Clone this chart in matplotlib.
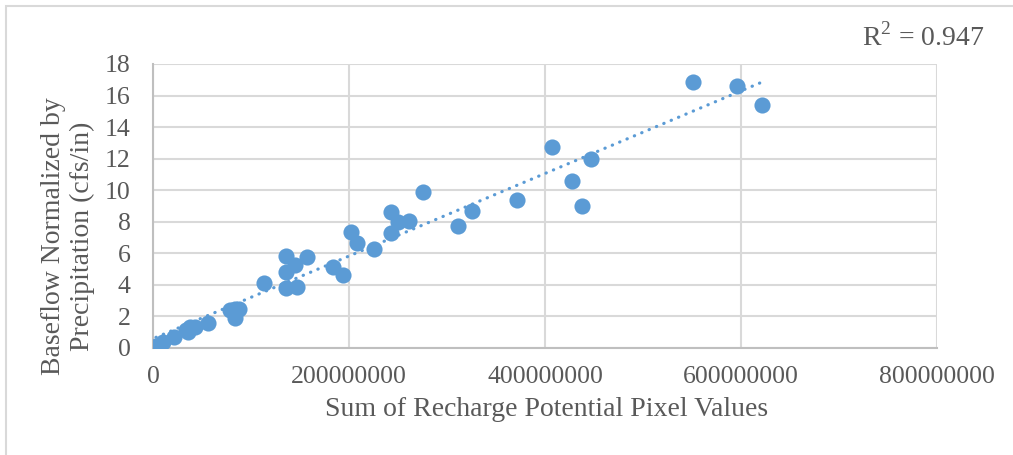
import matplotlib.pyplot as plt
import numpy as np
from matplotlib.patches import Rectangle

plt.rcParams['font.family'] = ['Liberation Serif', 'DejaVu Serif']
plt.rcParams['mathtext.fontset'] = 'custom'
plt.rcParams['mathtext.rm'] = 'Liberation Serif'

# sum of recharge potential pixel values (millions)
recharge_m = [3, 10.5, 21, 34, 36, 38, 43, 56, 78.5, 84, 84, 88, 113.6,
              136, 136, 136, 145, 146.6, 157, 184, 194, 202, 208.5, 226,
              243, 243, 250, 261.6, 275.8, 311.5, 325, 371.7, 407.5, 427.9,
              438, 447, 551.3, 596.2, 621.8]
# baseflow normalized by precipitation (cfs/in)
baseflow = [0.15, 0.4, 0.68, 1.14, 1.0, 1.35, 1.35, 1.6, 2.4, 2.45, 1.9,
            2.47, 4.1, 5.83, 4.84, 3.78, 5.26, 3.84, 5.75, 5.15, 4.63, 7.37,
            6.67, 6.27, 8.64, 7.27, 8.0, 8.07, 9.87, 7.73, 8.7, 9.38, 12.72,
            10.6, 9.0, 12.0, 16.84, 16.62, 15.38]
r2_text = r"R$^{\mathrm{2}}$ = 0.947"
xticks = [0, 200000000, 400000000, 600000000, 800000000]
yticks = list(range(0, 19, 2))

blue = '#5B9BD5'
grid = '#d9d9d9'
txt = '#595959'

x = np.array(recharge_m) * 1e6
y = np.array(baseflow)

fig = plt.figure(figsize=(10.13, 4.55), dpi=100)
ax = fig.add_axes([153/1013, 1-348/455, 784/1013, 284/455])

ax.scatter(x, y, s=135, color=blue, zorder=3, linewidths=0)

k, b = np.polyfit(x, y, 1)
xf = np.array([x.min(), x.max()])
ax.plot(xf, k*xf + b, color=blue, lw=2.3, linestyle=(0, (0.1, 2.4)),
        dash_capstyle='round', zorder=4)

ax.set_xlim(0, 800000000)
ax.set_ylim(0, 18)
ax.set_xticks(xticks)
ax.set_xticklabels([str(t) for t in xticks])
ax.set_yticks(yticks)
ax.grid(True, color=grid, lw=1.5, zorder=0)
ax.set_axisbelow(True)
for s in ['top', 'right']:
    ax.spines[s].set_visible(False)
for s in ['left', 'bottom']:
    ax.spines[s].set_color('#bfbfbf')
    ax.spines[s].set_linewidth(1.5)
ax.tick_params(length=0, labelsize=18.5, labelcolor=txt)
ax.tick_params(axis='x', pad=13)
ax.tick_params(axis='y', pad=16)

fig.text(547/1013, 1-410/455, "Sum of Recharge Potential Pixel Values",
         ha='center', va='center', fontsize=20, color=txt)
fig.text(68/1013, 1-236/455, "Baseflow Normalized by\nPrecipitation (cfs/in)",
         ha='center', va='center', rotation=90, fontsize=20, color=txt,
         linespacing=1.15)
fig.text(985/1013, 1-46/455, r2_text, ha='right', va='baseline',
         fontsize=20, color=txt)

fig.add_artist(Rectangle((6/1013, -0.1), 1.2, 1-6/455+0.1, transform=fig.transFigure,
                         fill=False, edgecolor=grid, lw=1.5))

fig.savefig('out.png', dpi=100)
